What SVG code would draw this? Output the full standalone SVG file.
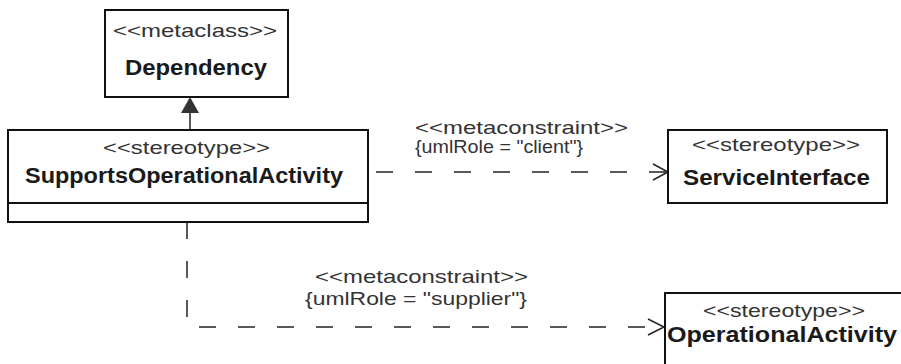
<svg xmlns="http://www.w3.org/2000/svg" width="901" height="364" viewBox="0 0 901 364">
<style>
.box{fill:#fff;stroke:#111;stroke-width:2}
.st{font-family:"Liberation Sans",Arial,sans-serif;font-size:19px;fill:#333}
.nm{font-family:"Liberation Sans",Arial,sans-serif;font-size:22px;font-weight:bold;fill:#1a1a1a}
.lb{font-family:"Liberation Sans",Arial,sans-serif;font-size:19px;fill:#333}
.dash{fill:none;stroke:#222;stroke-width:1.5;stroke-dasharray:17 22}
.head{fill:none;stroke:#222;stroke-width:1.5}
</style>
<rect width="901" height="364" fill="#fff"/>
<g id="connectors">
  <line x1="190" y1="113" x2="190" y2="130" stroke="#222" stroke-width="1.5"/>
  <polygon points="190,97 181,113 199,113" fill="#333"/>
  <line class="dash" x1="376" y1="172" x2="666" y2="172"/>
  <polyline class="head" points="653,164 668,172 653,180"/>
  <path class="dash" d="M187 222 V327 H663"/>
  <polyline class="head" points="648,319 664,327 648,335"/>
  <text class="lb" x="415" y="134" textLength="213" lengthAdjust="spacingAndGlyphs">&lt;&lt;metaconstraint&gt;&gt;</text>
  <text class="lb" x="415" y="153" textLength="168" lengthAdjust="spacingAndGlyphs">{umlRole = "client"}</text>
  <text class="lb" x="315" y="283" textLength="213" lengthAdjust="spacingAndGlyphs">&lt;&lt;metaconstraint&gt;&gt;</text>
  <text class="lb" x="305" y="305" textLength="222" lengthAdjust="spacingAndGlyphs">{umlRole = "supplier"}</text>
</g>
<g id="dependency">
  <rect class="box" x="105" y="10" width="183" height="87"/>
  <text class="st" x="113" y="37" textLength="164" lengthAdjust="spacingAndGlyphs">&lt;&lt;metaclass&gt;&gt;</text>
  <text class="nm" x="125" y="75" textLength="142" lengthAdjust="spacingAndGlyphs">Dependency</text>
</g>
<g id="supportsOperationalActivity">
  <rect class="box" x="8" y="130" width="360" height="92"/>
  <line x1="8" y1="203" x2="368" y2="203" stroke="#111" stroke-width="2"/>
  <text class="st" x="103" y="154" textLength="167" lengthAdjust="spacingAndGlyphs">&lt;&lt;stereotype&gt;&gt;</text>
  <text class="nm" x="25" y="183" textLength="318" lengthAdjust="spacingAndGlyphs">SupportsOperationalActivity</text>
</g>
<g id="serviceInterface">
  <rect class="box" x="668" y="130" width="219" height="73"/>
  <text class="st" x="692" y="151" textLength="168" lengthAdjust="spacingAndGlyphs">&lt;&lt;stereotype&gt;&gt;</text>
  <text class="nm" x="683" y="185" textLength="187" lengthAdjust="spacingAndGlyphs">ServiceInterface</text>
</g>
<g id="operationalActivity">
  <rect class="box" x="665" y="293" width="250" height="90"/>
  <text class="st" x="703" y="317" textLength="162" lengthAdjust="spacingAndGlyphs">&lt;&lt;stereotype&gt;&gt;</text>
  <text class="nm" x="667" y="342" textLength="230" lengthAdjust="spacingAndGlyphs">OperationalActivity</text>
</g>
</svg>
